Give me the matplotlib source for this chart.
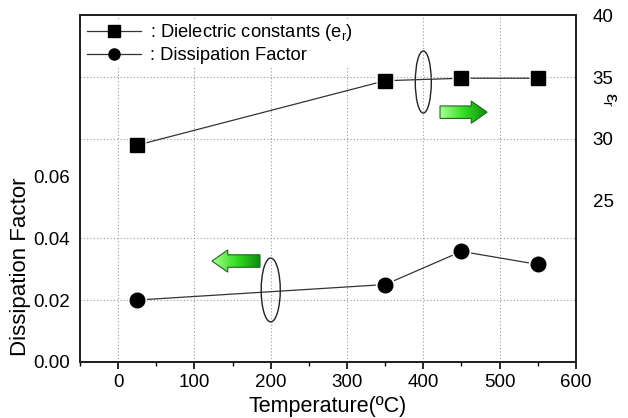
import numpy as np
import matplotlib
matplotlib.use("Agg")
import matplotlib.pyplot as plt
import matplotlib.patches as patches
from matplotlib.lines import Line2D
import matplotlib.transforms as mtransforms

plt.rcParams["font.family"] = ["Liberation Sans", "DejaVu Sans"]
plt.rcParams["mathtext.fontset"] = "custom"
plt.rcParams["mathtext.rm"] = "Liberation Sans"
plt.rcParams["mathtext.it"] = "Liberation Sans:italic"

# data
temperature = [25, 350, 450, 550]
dielectric = [29.5, 34.7, 34.9, 34.9]
dissipation = [0.020, 0.0250, 0.0357, 0.0315]

x_ticks = [0, 100, 200, 300, 400, 500, 600]
left_ticks = [0.00, 0.02, 0.04, 0.06]
right_ticks = [25, 30, 35, 40]

LINE = "#333333"
GRID = "#999999"

fig = plt.figure(figsize=(6.28, 4.18), dpi=100)
ax = fig.add_axes([0.1274, 0.134, 0.7896, 0.830])
ax2 = ax.twinx()

ax.set_xlim(-50, 600)
ax.set_ylim(0, 0.112)
ax2.set_ylim(12, 40)

# dotted grid
for xv in x_ticks[:-1]:
    ax.axvline(xv, color=GRID, ls=(0, (1, 2)), lw=0.8, zorder=0)
for yv in [0.02, 0.04]:
    ax.axhline(yv, color=GRID, ls=(0, (1, 2)), lw=0.8, zorder=0)
for yv in [30, 35]:
    ax2.axhline(yv, color=GRID, ls=(0, (1, 2)), lw=0.8, zorder=0)


def draw_series(a, x, y, marker, ms):
    a.plot(x, y, color=LINE, lw=0.9, zorder=2)
    a.plot(x, y, ls="none", marker=marker, ms=ms + 3.5, mfc="white", mec="none", zorder=3)
    a.plot(x, y, ls="none", marker=marker, ms=ms, mfc="black", mec="black", zorder=4)


draw_series(ax, temperature, dissipation, "o", 10.5)
draw_series(ax2, temperature, dielectric, "s", 10)

# ticks and spines
ax.set_xticks(x_ticks)
ax.set_xticks(np.arange(-50, 601, 50), minor=True)
ax.tick_params(axis="x", which="major", direction="out", length=5, width=1.2,
               labelsize=13.5, pad=4)
ax.tick_params(axis="x", which="minor", direction="out", length=3, width=1.0)
ax.set_yticks(left_ticks)
ax.set_yticklabels(["0.00", "0.02", "0.04", "0.06"])
ax.tick_params(axis="y", length=0, pad=7, labelsize=13.5)
ax2.set_yticks(right_ticks)
ax2.tick_params(axis="y", length=0, pad=12, labelsize=13.5)
for a in (ax, ax2):
    for s in a.spines.values():
        s.set_linewidth(1.4)
        s.set_color("#222222")

ax.set_xlabel("Temperature(ºC)", fontsize=15.5, labelpad=3)
ax.set_ylabel("Dissipation Factor", fontsize=16)
ax.yaxis.set_label_coords(-0.098, 0.275)
ax2.set_ylabel(r"$\mathrm{\varepsilon_r}$", fontsize=14, rotation=270)
ax2.yaxis.set_label_coords(1.085, 0.755)

# legend
handles = [
    Line2D([], [], color=LINE, lw=0.9, marker="s", ms=8, mfc="black", mec="black"),
    Line2D([], [], color=LINE, lw=0.9, marker="o", ms=8, mfc="black", mec="black"),
]
labels = [r": Dielectric constants (e$_\mathrm{r}$)", ": Dissipation Factor"]
leg = ax2.legend(handles, labels, loc="upper left", bbox_to_anchor=(0.0, 1.0),
                 frameon=True, fontsize=13.2, handlelength=2.9, handletextpad=0.5,
                 borderaxespad=0.2, labelspacing=0.2, borderpad=0.2)
leg.get_frame().set_edgecolor("none")
leg.get_frame().set_facecolor("white")
leg.get_frame().set_alpha(1)

# ellipses (x in data, y in axes fraction)
trans = mtransforms.blended_transform_factory(ax.transData, ax.transAxes)
ax.add_patch(patches.Ellipse((400, 0.807), 21, 0.179, transform=trans,
                             fill=False, ec="#222222", lw=1.0, zorder=6))
ax.add_patch(patches.Ellipse((200, 0.2075), 25, 0.184, transform=trans,
                             fill=False, ec="#222222", lw=1.0, zorder=6))


def gradient_arrow(a, x0, x1, yc, pointing_right):
    # arrow polygon in axes fraction
    head = 0.032
    bh = 0.018
    hh = 0.032
    if pointing_right:
        xb = x1 - head
        pts = [(x0, yc - bh), (xb, yc - bh), (xb, yc - hh), (x1, yc),
               (xb, yc + hh), (xb, yc + bh), (x0, yc + bh)]
    else:
        xb = x0 + head
        pts = [(x1, yc - bh), (xb, yc - bh), (xb, yc - hh), (x0, yc),
               (xb, yc + hh), (xb, yc + bh), (x1, yc + bh)]
    poly = patches.Polygon(pts, closed=True, transform=a.transAxes,
                           fc="none", ec="#1a6b1a", lw=0.8, zorder=8)
    a.add_patch(poly)
    grad = np.linspace(0, 1, 64).reshape(1, -1)
    cmap = matplotlib.colors.LinearSegmentedColormap.from_list(
        "g", ["#a8ff90", "#33dd22", "#108a10"])
    im = a.imshow(grad, cmap=cmap, extent=[x0, x1, yc - hh, yc + hh],
                  transform=a.transAxes, aspect="auto", zorder=7)
    im.set_clip_path(poly)


gradient_arrow(ax2, 0.726, 0.821, 0.72, True)
gradient_arrow(ax2, 0.266, 0.363, 0.291, False)
ax2.set_xlim(-50, 600)
ax2.set_ylim(12, 40)

fig.savefig("out.png", dpi=100)
